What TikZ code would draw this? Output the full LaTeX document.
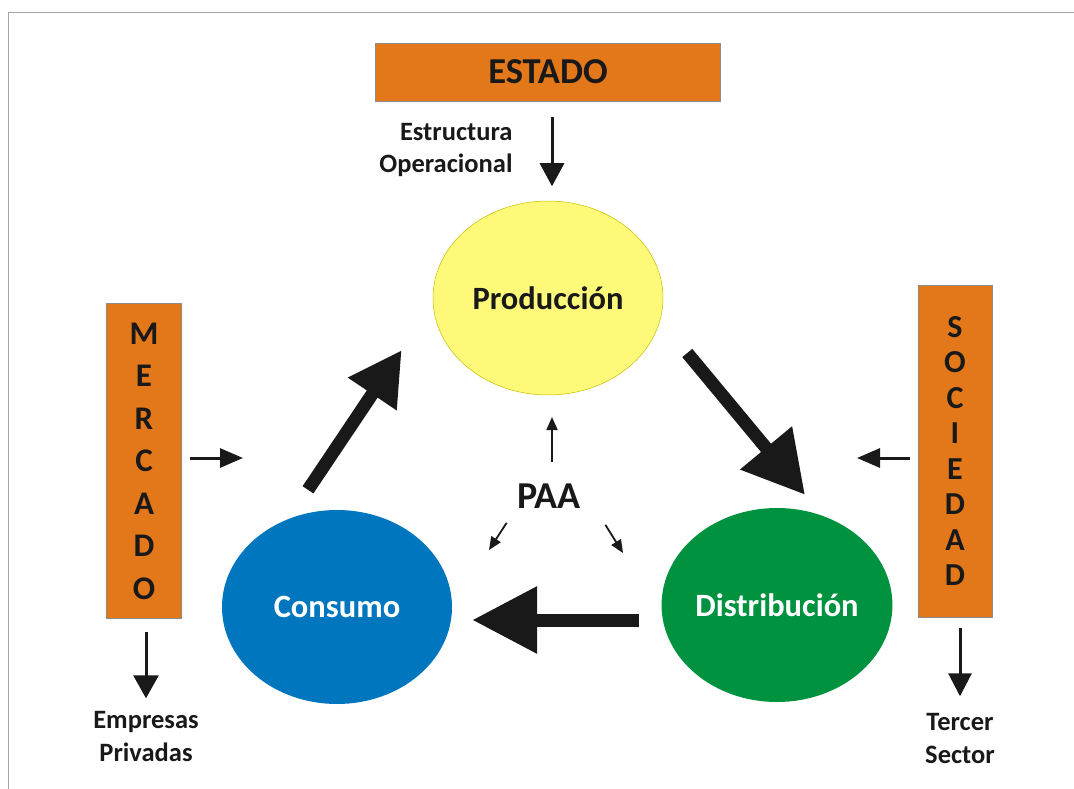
\documentclass[tikz,border=0pt]{standalone}
\usepackage{fontspec}
\setmainfont{Carlito}
\usepackage{xcolor}
\usetikzlibrary{shapes.geometric,arrows.meta}
\definecolor{boxorange}{RGB}{227,120,26}
\definecolor{prodyellow}{RGB}{255,249,122}
\definecolor{consblue}{RGB}{0,118,190}
\definecolor{distgreen}{RGB}{0,146,63}
\newcommand{\fnt}[2]{\bfseries\fontsize{#1}{#2}\selectfont}

\tikzset{
    box/.style={draw=black!45,line width=0.6pt,fill=boxorange,inner sep=0pt,text=black!90},
    circ/.style={ellipse,inner sep=0pt,minimum width=230pt,minimum height=194pt,font=\fnt{32.5}{32.5}},
    lbl/.style={text=black!90,font=\fnt{26.5}{#1}},
    bigarrow/.style args={#1/#2}{line width=13pt,black!90,-{Triangle[length=#1,width=#2]}},
    midarrow/.style={line width=3pt,black!90,-{Triangle[length=23pt,width=#1]}},
    paaarrow/.style={line width=1.8pt,black!90,-{Triangle[length=13pt,width=11pt]}}
}

\begin{document}
\begin{tikzpicture}[x=1pt,y=-1pt]
    \useasboundingbox (0,0) rectangle (1074,789);
    \draw[black!35,line width=1pt] (8.7,789) |- (1074,12.7);
    % boxes and circles
    \node[box,minimum width=345pt,minimum height=58pt,font=\fnt{36.5}{36.5}] (estado) at (548,72) {ESTADO};
    \node[box,minimum width=75pt,minimum height=315pt,align=center,font=\fnt{33}{42.5}] (merc) at (144,461) {M\\E\\R\\C\\A\\D\\O};
    \node[box,minimum width=74pt,minimum height=332pt,align=center,font=\fnt{32}{35.5}] (soc) at (955,451) {S\\O\\C\\I\\E\\D\\A\\D};
    \node[circ,fill=prodyellow,draw=yellow!50!olive,line width=0.5pt,text=black!90] (prod) at (548,298) {Producción};
    \node[circ,fill=consblue,text=white] (cons) at (337,607) {Consumo};
    \node[circ,fill=distgreen,text=white] (dist) at (777,605) {Distribución};
    \node[text=black!90,font=\fnt{38}{38}] (paa) at (549,496) {PAA};
    % labels
    \node[lbl=32,anchor=east,align=right] (estr) at (516,150) {Estructura\\Operacional};
    \node[lbl=33,align=center] (emp) at (146,736) {Empresas\\Privadas};
    \node[lbl=33,align=center] (terc) at (960,738) {Tercer\\Sector};
    \coordinate (mIn) at (243,458);
    \coordinate (sIn) at (857,458);
    \coordinate (pUp) at (552,417);
    \coordinate (pL) at (489,550);
    \coordinate (pR) at (623,553);
    % arrows
    \draw[midarrow=24pt,shorten <=16pt,shorten >=14.5pt] ([xshift=4pt]estado.south) -- ([xshift=4pt]prod.north);
    \draw[midarrow=25pt,shorten <=13pt,shorten >=9pt] (merc.south -| emp.north) -- (emp.north);
    \draw[midarrow=23pt,shorten <=11pt,shorten >=13pt] (soc.south -| terc.north) -- (terc.north);
    \draw[midarrow=19pt,shorten <=8pt] ([yshift=3pt]merc.east) -- (mIn);
    \draw[midarrow=19pt,shorten <=8pt] ([yshift=-7pt]soc.west) -- (sIn);
    \draw[bigarrow=53pt/55pt] ([shift={(-29,-20)}]cons.north) -- ([shift={(-31,52)}]prod.west);
    \draw[bigarrow=61pt/64pt] ([shift={(24,55)}]prod.east) -- ([shift={(28,-13)}]dist.north);
    \draw[bigarrow=65pt/64pt] ([shift={(-22,15)}]dist.west) -- ([shift={(20,13)}]cons.east);
    \draw[paaarrow,shorten <=18pt] ([xshift=3pt]paa.north) -- (pUp);
    \draw[paaarrow] ([shift={(-7,11)}]paa.south west) -- (pL);
    \draw[paaarrow] ([shift={(21,13)}]paa.south east) -- (pR);
\end{tikzpicture}
\end{document}
